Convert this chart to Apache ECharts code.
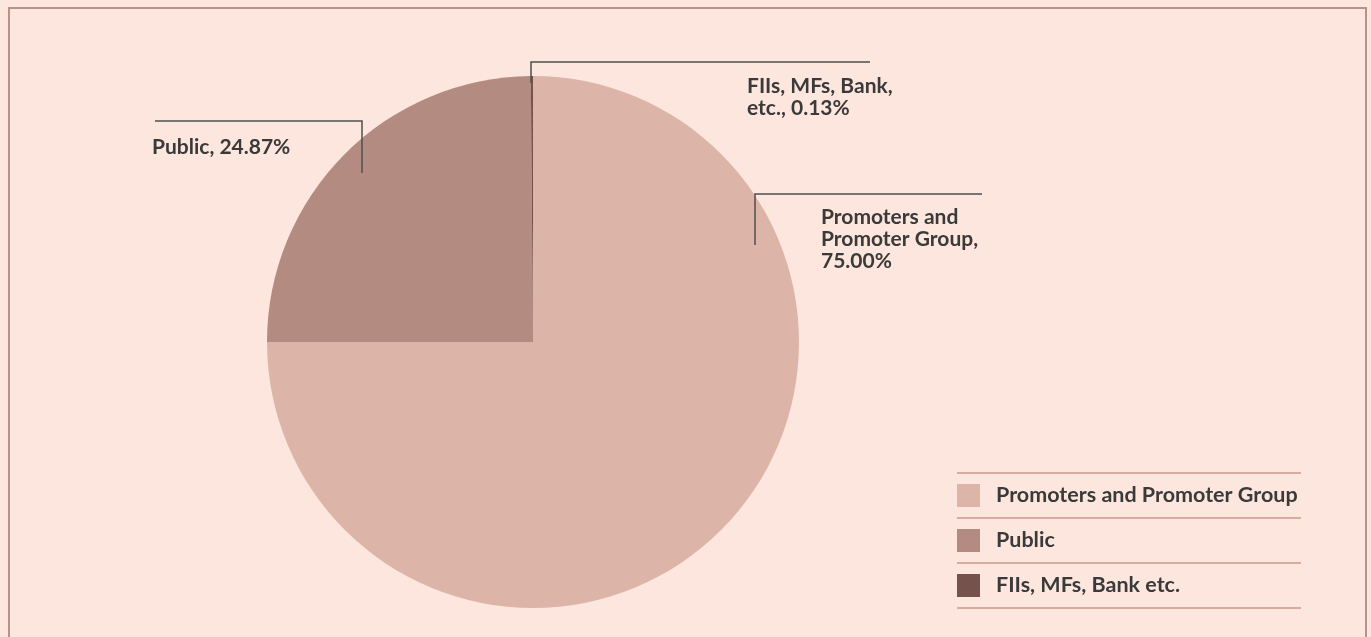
<!DOCTYPE html>
<html>
<head>
<meta charset="utf-8">
<title>Shareholding Pattern</title>
<script src="https://cdn.jsdelivr.net/npm/echarts@6/dist/echarts.min.js"></script>
<style>
  html, body { margin: 0; padding: 0; background: #fde6dd; }
  #chart { width: 1371px; height: 637px; }
</style>
</head>
<body>
<div id="chart"></div>
<script>
// data
let categories = ["Promoters and Promoter Group", "Public", "FIIs, MFs, Bank etc."];
let labelNames = ["Promoters and Promoter Group", "Public", "FIIs, MFs, Bank, etc."];
let shares = [75.00, 24.87, 0.13];
let colors = ["#ddb5a8", "#b38b80", "#75524b"];

// where each label sits and how its leader line runs (annotation layout only)
let labelSpots = [
    {x: 821, y: 206, line: [[755, 245], [755, 194], [982, 194]]},
    {x: 152, y: 136, line: [[362, 173], [362, 121], [155, 121]]},
    {x: 747, y: 75,  line: [[531, 83], [531, 62], [870, 62]]}
];

let myEcharts = echarts.init(document.getElementById("chart"));

// 图例分隔线
let legendLines = [];
[473, 518, 563, 608].forEach(function (y) {
    legendLines.push({
        type: "line",
        shape: {x1: 957, y1: y, x2: 1301, y2: y},
        style: {stroke: "#d8aba1", lineWidth: 2}
    });
});

let pieData = categories.map(function (name, i) {
    return {name: name, value: shares[i]};
});

let option = {
    backgroundColor: "#fde6dd",
    color: colors,
    textStyle: {fontFamily: "Lato"},
    graphic: [
        {
            type: "rect",
            shape: {x: 9, y: 8, width: 1357, height: 650},
            style: {fill: "none", stroke: "#b5928a", lineWidth: 2},
            silent: true
        }
    ].concat(legendLines),
    legend: {
        orient: "vertical",
        left: 957,
        top: 484,
        padding: 0,
        itemWidth: 23,
        itemHeight: 23,
        itemGap: 22,
        icon: "rect",
        selectedMode: false,
        data: categories,
        textStyle: {
            fontFamily: "Lato",
            fontWeight: "bold",
            fontSize: 21.5,
            color: "#3a3a3a",
            padding: [0, 0, 0, 11]
        }
    },
    series: [
        {
            // the slices
            type: "pie",
            center: [533, 342],
            radius: 266,
            startAngle: 90,
            clockwise: true,
            animation: false,
            label: {show: false},
            labelLine: {show: false},
            emphasis: {disabled: true},
            data: pieData
        },
        {
            // same data again, invisible, only to carry labels + leader lines above the slices
            type: "pie",
            z: 5,
            center: [533, 342],
            radius: 266,
            startAngle: 90,
            clockwise: true,
            animation: false,
            silent: true,
            avoidLabelOverlap: false,
            itemStyle: {color: "rgba(0,0,0,0)"},
            label: {
                show: true,
                fontFamily: "Lato",
                fontWeight: "bold",
                fontSize: 21,
                lineHeight: 22,
                color: "#3a3a3a",
                width: 170,
                overflow: "break",
                formatter: function (p) {
                    return labelNames[p.dataIndex] + ", " + shares[p.dataIndex].toFixed(2) + "%";
                }
            },
            labelLine: {
                show: true,
                lineStyle: {color: "#4f4f4f", width: 1.5}
            },
            labelLayout: function (p) {
                let s = labelSpots[p.dataIndex];
                return {
                    x: s.x,
                    y: s.y,
                    align: "left",
                    verticalAlign: "top",
                    labelLinePoints: s.line
                };
            },
            emphasis: {disabled: true},
            data: pieData
        }
    ]
};
myEcharts.setOption(option);
</script>
</body>
</html>
